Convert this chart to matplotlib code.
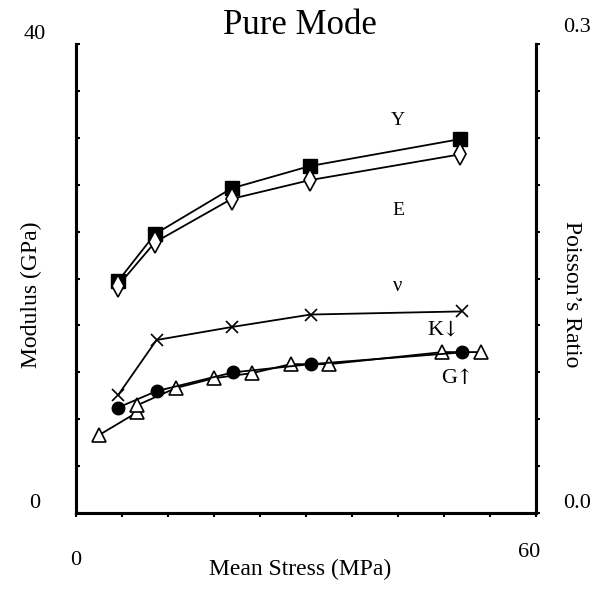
import matplotlib.pyplot as plt

plt.rcParams['font.family'] = ['Liberation Serif', 'DejaVu Serif']

# modulus data (GPa) vs mean stress (MPa)
stress_y = [5.5, 10.3, 20.3, 30.5, 50.1]
young_y = [19.8, 23.8, 27.7, 29.6, 31.9]
stress_e = [5.5, 10.3, 20.3, 30.5, 50.1]
young_e = [19.4, 23.1, 26.8, 28.4, 30.6]
stress_k = [5.5, 10.5, 20.5, 30.6, 50.3]
bulk_k = [9.0, 10.4, 12.0, 12.7, 13.7]
stress_g = [3.0, 8.0, 8.0, 13.0, 18.0, 23.0, 28.0, 33.0, 47.8, 52.8]
shear_g = [6.65, 8.6, 9.2, 10.66, 11.5, 11.94, 12.7, 12.7, 13.73, 13.73]
# Poisson's ratio
stress_nu = [5.5, 10.5, 20.3, 30.6, 50.3]
poisson_nu = [0.0755, 0.1107, 0.119, 0.127, 0.129]

fig = plt.figure(figsize=(6, 5.89), dpi=100)
ax = fig.add_axes([0.1267, 0.129, 0.7666, 0.796])
ax2 = ax.twinx()

lw = 1.3
ax.plot(stress_y, young_y, color='black', lw=lw, marker='s', ms=10, mfc='black', mec='black', zorder=3)
ax.plot(stress_e, young_e, color='black', lw=lw, marker='d', ms=11, mfc='white', mec='black', mew=1.2, zorder=3)
ax.plot(stress_g, shear_g, color='black', lw=lw, marker='^', ms=10, mfc='white', mec='black', mew=1.2, zorder=3)
ax.plot(stress_k, bulk_k, color='black', lw=lw, marker='o', ms=9, mfc='black', mec='black', zorder=4)
ax2.plot(stress_nu, poisson_nu, color='black', lw=lw, marker='x', ms=8, mew=1.2)

ax.set_xlim(0, 60)
ax.set_ylim(0, 40)
ax2.set_ylim(0, 0.3)

ax.set_xticks(range(0, 61, 6))
ax.set_yticks(range(0, 41, 4))
ax2.set_yticks([i * 0.03 for i in range(11)])
ax.set_xticklabels([])
ax.set_yticklabels([])
ax2.set_yticklabels([])
ax.tick_params(axis='x', direction='out', length=3, width=1.5)
ax.tick_params(axis='y', direction='in', length=3, width=1.5)
ax2.tick_params(axis='y', direction='out', length=3, width=1.5)

for a in (ax, ax2):
    a.spines['top'].set_visible(False)
    for s in ('left', 'right', 'bottom'):
        a.spines[s].set_linewidth(2.2)

fs = 16
ax.text(-0.09, 1.0, '40', transform=ax.transAxes, ha='center', va='bottom', fontsize=fs)
ax.text(-0.09, 0.0, '0', transform=ax.transAxes, ha='center', va='bottom', fontsize=fs)
ax.text(1.09, 1.015, '0.3', transform=ax.transAxes, ha='center', va='bottom', fontsize=fs)
ax.text(1.09, 0.0, '0.0', transform=ax.transAxes, ha='center', va='bottom', fontsize=fs)
ax.text(0.0, -0.08, '0', transform=ax.transAxes, ha='center', va='top', fontsize=fs)
ax.text(0.985, -0.065, '60', transform=ax.transAxes, ha='center', va='top', fontsize=fs)

fig.text(0.5, 0.016, 'Mean Stress (MPa)', ha='center', va='bottom', fontsize=17)
fig.text(0.052, 0.5, 'Modulus (GPa)', ha='center', va='center', rotation=90, fontsize=17)
fig.text(0.952, 0.5, 'Poisson\u2019s Ratio', ha='center', va='center', rotation=-90, fontsize=17)
fig.text(0.5, 0.957, 'Pure Mode', ha='center', va='center', fontsize=25)

# series labels
ax.text(42.0, 33.5, 'Y', ha='center', va='center', fontsize=14)
ax.text(42.0, 25.8, 'E', ha='center', va='center', fontsize=14)
ax.text(42.0, 19.3, '\u03bd', ha='center', va='center', fontsize=15)
ax.text(47.9, 15.6, 'K', ha='right', va='center', fontsize=16)
ax.text(47.7, 15.6, '\u2193', ha='left', va='center', fontsize=15, family=['DejaVu Serif'])
ax.text(49.7, 11.5, 'G', ha='right', va='center', fontsize=16)
ax.text(49.5, 11.5, '\u2191', ha='left', va='center', fontsize=15, family=['DejaVu Serif'])

fig.savefig('out.png', dpi=100)
